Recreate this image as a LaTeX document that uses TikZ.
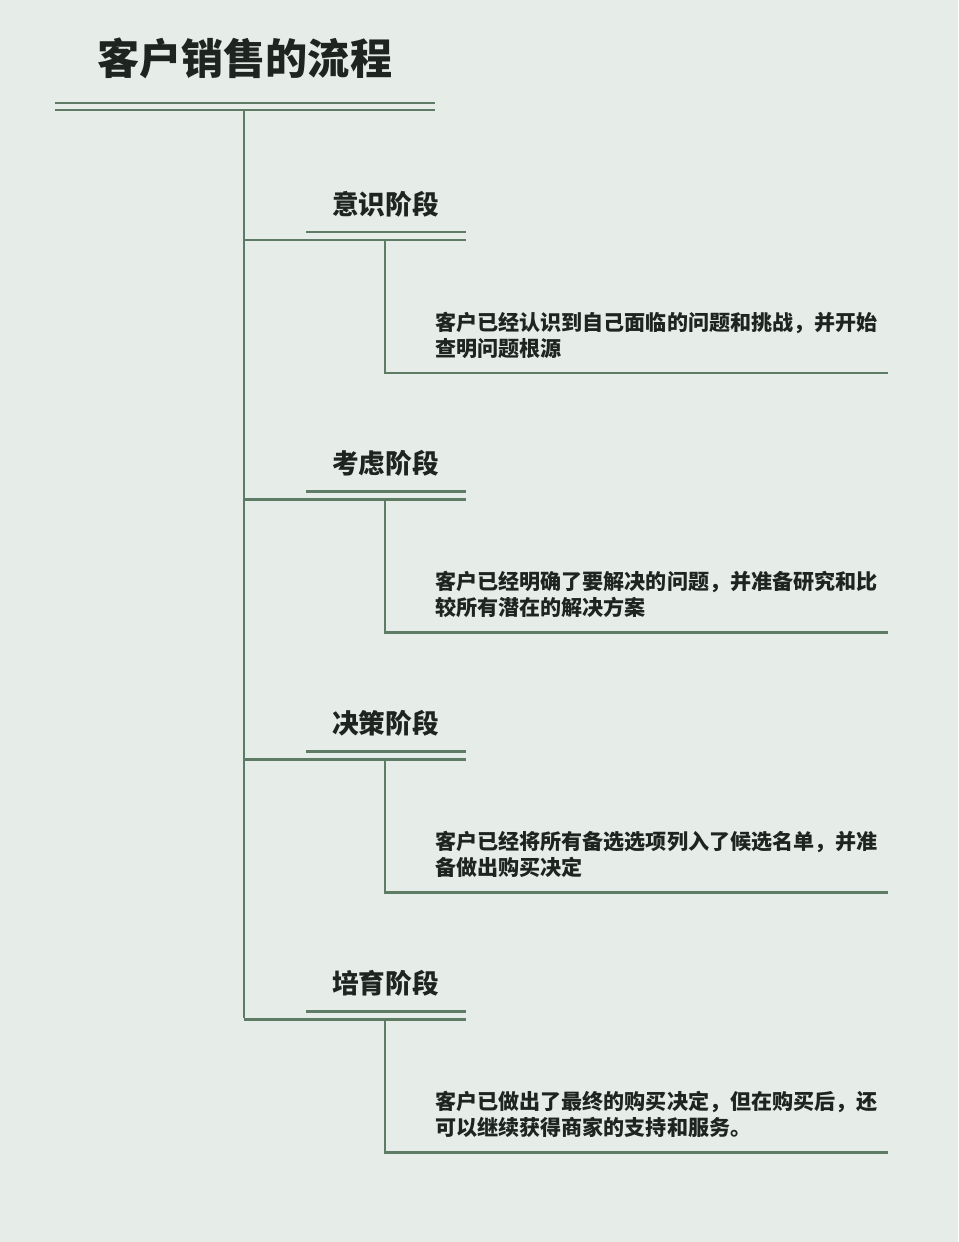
\documentclass[tikz,border=0pt]{standalone}
\usepackage{fontspec}
\setmainfont{Noto Sans CJK SC}
\definecolor{fond}{HTML}{E6ECE8}
\definecolor{vert}{HTML}{5D7B65}
\definecolor{encre}{HTML}{1E2420}
\tikzset{
  trait/.style={vert, line width=2.2pt},
  titre/.style={anchor=west, inner sep=0pt, encre, font=\fontsize{31.6}{36}\selectfont\bfseries},
  etape/.style={anchor=west, inner sep=0pt, encre, font=\fontsize{20}{24}\selectfont\bfseries},
  texte/.style={anchor=base west, inner sep=0pt, encre, align=left, font=\fontsize{15.8}{19.5}\selectfont\bfseries}
}

\begin{document}
\begin{tikzpicture}[x=0.75pt,y=-0.75pt]
\fill [fond] (0,0) rectangle (958,1242);
\useasboundingbox (0,0) rectangle (958,1242);

\node [titre] (titre) at (97,58) {客户销售的流程};
\draw [trait] (55,103) -- (435,103);
\draw [trait] (55,110) -- (435,110);
\coordinate (haut) at (244,110);
\coordinate (bas) at (244,1018);
\draw [trait] (haut) -- (bas);

\foreach \k/\nom/\desc in {0/意识阶段/{客户已经认识到自己面临的问题和挑战，并开始\\查明问题根源},
  1/考虑阶段/{客户已经明确了要解决的问题，并准备研究和比\\较所有潜在的解决方案},
  2/决策阶段/{客户已经将所有备选选项列入了候选名单，并准\\备做出购买决定},
  3/培育阶段/{客户已做出了最终的购买决定，但在购买后，还\\可以继续获得商家的支持和服务。}} {
  \pgfmathsetmacro{\y}{259.7*\k}
  \node [etape] (etape\k) at (332,204+\y) {\nom};
  \draw [trait] (306,232+\y) -- (466,232+\y);
  \coordinate (b\k) at (244,240+\y);
  \coordinate (c\k) at (385,240+\y);
  \coordinate (d\k) at (385,373+\y);
  \draw [trait] (b\k) -- (466,240+\y);
  \draw [trait] (c\k) -- (d\k) -- (888,373+\y);
  \node [texte] (texte\k) at (435,356+\y) {\desc};
}

\end{tikzpicture}
\end{document}
